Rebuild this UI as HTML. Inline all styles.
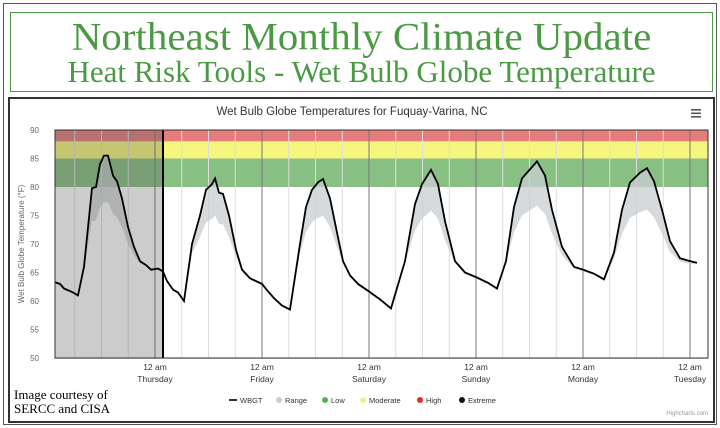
<!DOCTYPE html>
<html><head><meta charset="utf-8"><style>
body{margin:0;background:#fff;width:720px;height:428px;overflow:hidden;position:relative;font-family:"Liberation Sans",sans-serif}
.outer{position:absolute;left:3px;top:3px;width:712px;height:420px;border:1px solid #555}
.tbox{position:absolute;left:10px;top:12px;width:701px;height:78px;border:1.5px solid #4a9a44;color:#4a9a44;font-family:"Liberation Serif",serif;text-align:center}
.t1{position:absolute;left:0;right:0;top:2px;font-size:41px;line-height:42px;transform:scaleY(0.95)}
.t2{position:absolute;left:0;right:0;top:43px;font-size:31px;line-height:32px}
.frame{position:absolute;left:8px;top:97px;width:703px;height:322px;border:2px solid #333}
</style></head><body>
<div class="outer"></div>
<div class="tbox"><div class="t1">Northeast Monthly Climate Update</div><div class="t2">Heat Risk Tools - Wet Bulb Globe Temperature</div></div>
<div class="frame"></div>
<svg id="s" width="720" height="428" style="position:absolute;left:0;top:0"></svg>
<script>
const X0=55,X1=708,Y=v=>358-(v-50)*5.7;
let h='';
h+=`<rect x="${X0}" y="${Y(90)}" width="${X1-X0}" height="${Y(88)-Y(90)}" fill="#e47d7b"/>`;
h+=`<rect x="${X0}" y="${Y(88)}" width="${X1-X0}" height="${Y(85)-Y(88)}" fill="#f6f57e"/>`;
h+=`<rect x="${X0}" y="${Y(85)}" width="${X1-X0}" height="${Y(80)-Y(85)}" fill="#88bf83"/>`;
for(let x=155-107*4;x<=X1;x+=26.75){ if(x<X0)continue; let major=Math.abs(((x-155)/107)-Math.round((x-155)/107))<0.01;
 h+=`<line x1="${x}" y1="${Y(90)}" x2="${x}" y2="358" stroke="${major?'#777':'#ddd'}" stroke-width="1"/>`;}
const P=[[55,63.3],[60,63],[64,62.2],[72,61.6],[78,61],[84,66],[92,79.8],[96,80],[100,84],[104,85.5],[108,85.5],[113,82],[117,81],[122,78],[128,73],[134,69.5],[140,67],[146,66.3],[151,65.5],[158,65.7],[163,65.2],[167,63.5],[173,62],[178,61.5],[184,60],[192,70],[200,75],[206,79.5],[212,80.5],[215,81.5],[219,79],[223,78.8],[229,75],[236,69],[242,65.5],[250,64],[262,63],[268,61.7],[274,60.5],[282,59.2],[290,58.5],[300,70],[306,76.5],[312,79.5],[318,80.8],[323,81.4],[330,78],[337,72],[343,67],[350,64.5],[358,63],[368,61.8],[380,60.3],[391,58.7],[405,67],[415,77],[422,80.5],[431,83],[438,80.5],[445,74],[455,67],[465,65],[476,64.2],[488,63.2],[497,62.2],[506,67],[514,76.5],[522,81.5],[537,84.5],[545,82],[552,76],[562,69.5],[574,66],[583,65.5],[594,64.8],[604,63.8],[614,68.5],[622,76],[630,80.8],[640,82.5],[647,83.3],[654,81],[662,76],[670,70.5],[680,67.5],[690,67],[697,66.7]];
const low=P.map(([x,v])=>[x,v>66?v-(v-66)*0.42:v-0.3]);
let poly=P.map(p=>p[0]+','+Y(p[1])).join(' ')+' '+low.slice().reverse().map(p=>p[0]+','+Y(p[1])).join(' ');
h+=`<polygon points="${poly}" fill="#c9cdd2" opacity="0.75"/>`;
h+=`<rect x="${X0}" y="${Y(90)}" width="${163-X0}" height="${358-Y(90)}" fill="#555" opacity="0.3"/>`;
h+=`<line x1="163" y1="${Y(90)}" x2="163" y2="358" stroke="#000" stroke-width="2"/>`;
h+=`<polyline points="${P.map(p=>p[0]+','+Y(p[1])).join(' ')}" fill="none" stroke="#000" stroke-width="1.8"/>`;
h+=`<line x1="${X0}" y1="358.5" x2="${X1}" y2="358.5" stroke="#ccd6eb"/>`;
h+=`<rect x="${X0}" y="${Y(90)}" width="${X1-X0}" height="${358-Y(90)}" fill="none" stroke="#333" stroke-width="1"/>`;
for(let v=50;v<=90;v+=5)h+=`<text x="39" y="${Y(v)+3}" font-size="8" fill="#666" text-anchor="end">${v}</text>`;
h+=`<text transform="translate(24,244) rotate(-90)" font-size="8" fill="#666" text-anchor="middle">Wet Bulb Globe Temperature (°F)</text>`;
const days=['Thursday','Friday','Saturday','Sunday','Monday','Tuesday'];
days.forEach((d,i)=>{let x=155+107*i;h+=`<text x="${x}" y="370" font-size="8.5" fill="#333" text-anchor="middle">12 am</text><text x="${x}" y="382" font-size="8.5" fill="#333" text-anchor="middle">${d}</text>`;});
h+=`<text x="352" y="115" font-size="11.5" fill="#333" text-anchor="middle">Wet Bulb Globe Temperatures for Fuquay-Varina, NC</text>`;
h+=`<g fill="#555"><rect x="691" y="109" width="10" height="1.6"/><rect x="691" y="112.5" width="10" height="1.6"/><rect x="691" y="116" width="10" height="1.6"/></g>`;
h+=`<line x1="229" y1="400" x2="237" y2="400" stroke="#333" stroke-width="2"/><text x="240" y="403" font-size="7.5" fill="#333">WBGT</text>`;
const L=[[279,'#c9cdd2','Range'],[325,'#55b050','Low'],[363,'#f0f08a','Moderate'],[420,'#e0301e','High'],[462,'#111','Extreme']];
L.forEach(([x,c,t])=>h+=`<circle cx="${x}" cy="400" r="3" fill="${c}"/><text x="${x+6}" y="403" font-size="7.5" fill="#333">${t}</text>`);
h+=`<text x="708" y="415" font-size="6" fill="#999" text-anchor="end">Highcharts.com</text>`;
h+=`<text x="14" y="399" font-size="13" font-family="Liberation Serif,serif" fill="#000">Image courtesy of</text><text x="14" y="413" font-size="13" font-family="Liberation Serif,serif" fill="#000">SERCC and CISA</text>`;
document.getElementById('s').innerHTML=h;
</script>
</body></html>
